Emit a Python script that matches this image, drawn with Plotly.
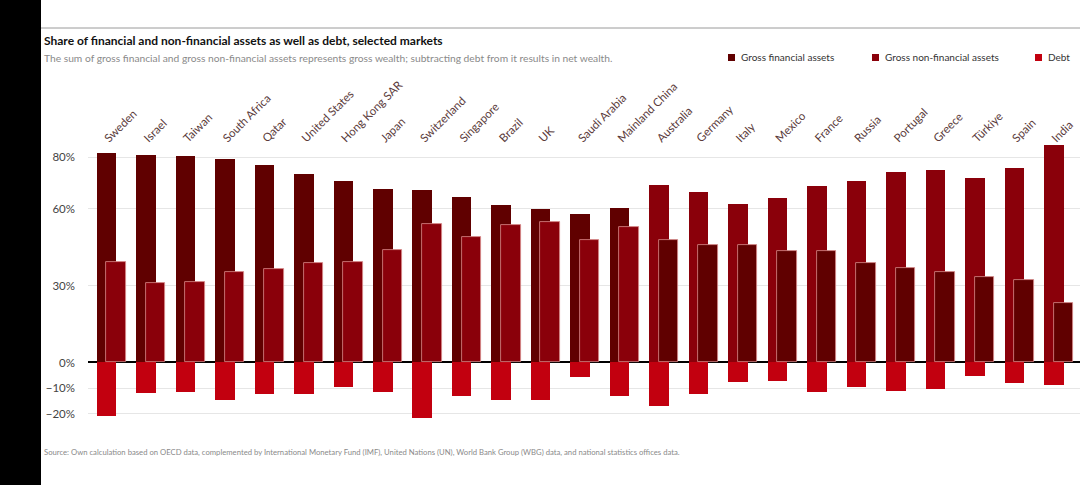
import plotly.graph_objects as go

countries = ["Sweden", "Israel", "Taiwan", "South Africa", "Qatar", "United States",
             "Hong Kong SAR", "Japan", "Switzerland", "Singapore", "Brazil", "UK",
             "Saudi Arabia", "Mainland China", "Australia", "Germany", "Italy", "Mexico",
             "France", "Russia", "Portugal", "Greece", "Türkiye", "Spain", "India"]
financial = [81.7, 81.0, 80.4, 79.3, 76.9, 73.6, 70.6, 67.7, 67.3, 64.3, 61.5, 59.7, 57.7,
             60.1, 47.6, 45.9, 45.6, 43.3, 43.3, 38.9, 36.7, 35.1, 33.2, 32.0, 23.3]
non_financial = [39.0, 30.9, 31.2, 35.3, 36.3, 38.6, 39.0, 43.8, 54.1, 48.8, 53.7, 54.9, 47.8,
                 52.8, 69.3, 66.4, 61.7, 64.1, 68.8, 70.8, 74.3, 74.9, 71.7, 75.9, 84.9]
debt = [-20.7, -12.0, -11.6, -14.5, -12.3, -12.3, -9.7, -11.5, -21.6, -13.2, -14.7, -14.5, -5.8,
        -12.9, -16.8, -12.4, -7.7, -7.1, -11.6, -9.7, -11.0, -10.3, -5.3, -8.0, -8.9]
y_tickvals = [-20, -10, 0, 30, 60, 80]
y_ticktext = ["\u221220%", "\u221210%", "0%", "30%", "60%", "80%"]

COL_FIN = "#600000"
COL_NONFIN = "#8a000a"
COL_DEBT = "#c2000f"

W, H = 1080, 485
ML, MR, MT, MB = 88, 0, 144, 55
PW, PH = W - ML - MR, H - MT - MB


def px(x):
    return (x - ML) / PW


def py(y):
    return (H - MB - y) / PH


# larger of the two asset shares sits behind, smaller in front
back_vals, back_cols, front_vals, front_cols = [], [], [], []
for f, n in zip(financial, non_financial):
    if f >= n:
        back_vals.append(f); back_cols.append(COL_FIN)
        front_vals.append(n); front_cols.append(COL_NONFIN)
    else:
        back_vals.append(n); back_cols.append(COL_NONFIN)
        front_vals.append(f); front_cols.append(COL_FIN)

fig = go.Figure()
fig.add_trace(go.Bar(x=countries, y=debt, marker=dict(color=COL_DEBT, line=dict(width=0)),
                     offset=-0.367, width=0.494, showlegend=False, name="Debt"))
fig.add_trace(go.Bar(x=countries, y=back_vals, marker=dict(color=back_cols, line=dict(width=0)),
                     offset=-0.367, width=0.494, showlegend=False, cliponaxis=False))
fig.add_trace(go.Bar(x=countries, y=front_vals,
                     marker=dict(color=front_cols, line=dict(width=0.8, color="#d98c8c")),
                     offset=-0.124, width=0.494, showlegend=False))

FONT = "Lato, Roboto, sans-serif"

shapes = [
    dict(type="rect", xref="paper", yref="paper", x0=px(0), x1=px(41), y0=py(0), y1=py(H),
         fillcolor="black", line=dict(width=0), layer="above"),
    dict(type="line", xref="paper", yref="paper", x0=px(41), x1=px(W), y0=py(28), y1=py(28),
         line=dict(color="#9a9a9a", width=1)),
]
annotations = [
    dict(text="<b>Share of financial and non-financial assets as well as debt, selected markets</b>",
         xref="paper", yref="paper", x=px(42), y=py(41), xanchor="left", yanchor="middle",
         showarrow=False, font=dict(size=12, color="#111", family=FONT)),
    dict(text="The sum of gross financial and gross non-financial assets represents gross wealth; "
              "subtracting debt from it results in net wealth.",
         xref="paper", yref="paper", x=px(42), y=py(58), xanchor="left", yanchor="middle",
         showarrow=False, font=dict(size=10.25, color="#8a8a8a", family=FONT)),
    dict(text="Source: Own calculation based on OECD data, complemented by International Monetary Fund (IMF), "
              "United Nations (UN), World Bank Group (WBG) data, and national statistics offices data.",
         xref="paper", yref="paper", x=px(42), y=py(452), xanchor="left", yanchor="middle",
         showarrow=False, font=dict(size=7.7, color="#8a8a8a", family=FONT)),
]
legend_items = [("Gross financial assets", COL_FIN, 728), ("Gross non-financial assets", COL_NONFIN, 872),
                ("Debt", COL_DEBT, 1035)]
for label, col, x0 in legend_items:
    shapes.append(dict(type="rect", xref="paper", yref="paper", x0=px(x0), x1=px(x0 + 7),
                       y0=py(61), y1=py(54), fillcolor=col, line=dict(width=0)))
    annotations.append(dict(text=label, xref="paper", yref="paper", x=px(x0 + 11), y=py(57.5),
                            xanchor="left", yanchor="middle", showarrow=False,
                            font=dict(size=10, color="#333", family=FONT)))

fig.update_layout(
    width=W, height=H, margin=dict(l=ML, r=MR, t=MT, b=MB),
    paper_bgcolor="white", plot_bgcolor="white", barmode="overlay", bargap=0,
    showlegend=False, shapes=shapes, annotations=annotations,
    font=dict(family=FONT),
    xaxis=dict(side="top", tickangle=-45, range=[-0.588, 24.545], showgrid=False,
               showline=False, ticks="", ticklabelshift=-6, ticklabelstandoff=-4,
               tickfont=dict(size=11.5, color="#5a3a3a", family=FONT)),
    yaxis=dict(range=[-26.3, 85.12], tickvals=y_tickvals, ticktext=y_ticktext,
               showgrid=True, gridcolor="#e6e6e6", gridwidth=1, zeroline=True,
               zerolinecolor="black", zerolinewidth=1.5, ticks="", ticklabelstandoff=12,
               tickfont=dict(size=11.5, color="#444", family=FONT)),
)

fig.write_html("out.html", config={"displayModeBar": False},
               post_script="document.body.style.margin='0';")
